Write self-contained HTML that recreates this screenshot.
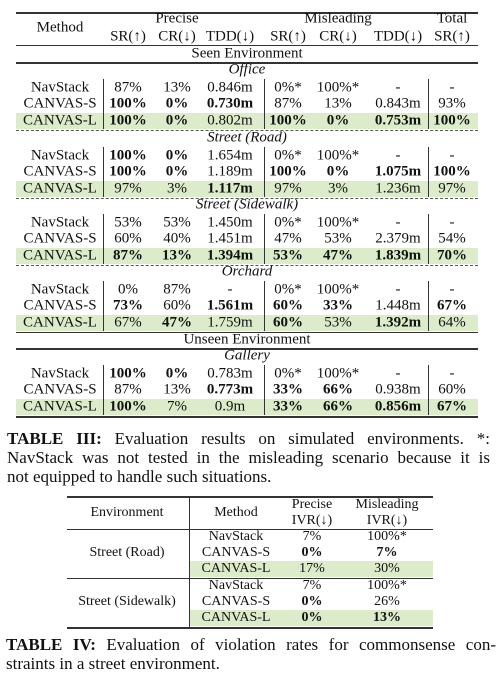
<!DOCTYPE html>
<html><head><meta charset="utf-8">
<style>
body{margin:0;background:#fff;width:503px;height:679px;overflow:hidden;position:relative;font-family:"Liberation Serif",serif;color:#111}
.t{position:absolute;white-space:nowrap;transform:translate(-50%,-50%);line-height:1}
.a{font-size:15px}
.b{font-size:14px}
.bold{font-weight:bold}
.it{font-style:italic}
.h{position:absolute;height:1px;background:#333}
.v{position:absolute;width:1px;background:#333}
.g{position:absolute;background:#dcebc9}
.d{position:absolute;height:0;border-top:1.5px dashed #555}
.cap{position:absolute;font-size:17px;line-height:19px}
.ln{display:block;white-space:nowrap;text-align:justify;text-align-last:justify;height:19px}
.ln.last{text-align-last:left}
</style></head>
<body>
<div id="t3"></div>
<div id="t4"></div>
<div class="cap" style="left:7px;top:429px;width:483px">
<span class="ln"><b>TABLE III:</b> Evaluation results on simulated environments. *:</span>
<span class="ln">NavStack was not tested in the misleading scenario because it is</span>
<span class="ln last">not equipped to handle such situations.</span>
</div>
<div class="cap" style="left:6px;top:635px;width:490px">
<span class="ln"><b>TABLE IV:</b> Evaluation of violation rates for commonsense con-</span>
<span class="ln last">straints in a street environment.</span>
</div>
<script>
const methods=["NavStack","CANVAS-S","CANVAS-L"];
const groups=["Office","Street (Road)","Street (Sidewalk)","Orchard","Gallery"];
const rows3=[
 [["87%","13%","0.846m","0%*","100%*","-","-"],["*100%","*0%","*0.730m","87%","13%","0.843m","93%"],["*100%","*0%","0.802m","*100%","*0%","*0.753m","*100%"]],
 [["*100%","*0%","1.654m","0%*","100%*","-","-"],["*100%","*0%","1.189m","*100%","*0%","*1.075m","*100%"],["97%","3%","*1.117m","97%","3%","1.236m","97%"]],
 [["53%","53%","1.450m","0%*","100%*","-","-"],["60%","40%","1.451m","47%","53%","2.379m","54%"],["*87%","*13%","*1.394m","*53%","*47%","*1.839m","*70%"]],
 [["0%","87%","-","0%*","100%*","-","-"],["*73%","60%","*1.561m","*60%","*33%","1.448m","*67%"],["67%","*47%","1.759m","*60%","53%","*1.392m","64%"]],
 [["*100%","*0%","0.783m","0%*","100%*","-","-"],["87%","13%","*0.773m","*33%","*66%","0.938m","60%"],["*100%","7%","0.9m","*33%","*66%","*0.856m","*67%"]]
];
const envs4=["Street (Road)","Street (Sidewalk)"];
const rows4=[[["7%","100%*"],["*0%","*7%"],["17%","30%"]],[["7%","100%*"],["*0%","26%"],["*0%","*13%"]]];

function el(parent,cls,style,name,txt){const e=document.createElement('div');e.className=cls;e.setAttribute('style',style);


if(txt!==undefined){if(txt.startsWith('*')&&txt.length>1){e.classList.add('bold');txt=txt.slice(1);}e.textContent=txt;}
parent.appendChild(e);return e;}
function txt(p,x,y,s,cls,name){return el(p,'t '+cls,`left:${x}px;top:${y}px`,name,s);}

const T3=document.getElementById('t3');
const cx=[128,177,230,288,338,398,452];
const L=16,R=478;
el(T3,'h',`left:${L}px;top:12px;width:${R-L}px;height:1.5px`,'top-rule');
txt(T3,60,28,'Method','a','header-method');
txt(T3,177,19,'Precise','a','header-precise');
txt(T3,338,19,'Misleading','a','header-misleading');
txt(T3,452,19,'Total','a','header-total');
const sub=["SR(↑)","CR(↓)","TDD(↓)","SR(↑)","CR(↓)","TDD(↓)","SR(↑)"];
sub.forEach((s,i)=>txt(T3,cx[i],37,s,'a','header-metric'));
el(T3,'h',`left:${L}px;top:45px;width:${R-L}px`,'header-rule');
txt(T3,247,54,'Seen Environment','a','seen-environment-label');
el(T3,'h',`left:${L}px;top:62px;width:${R-L}px;height:1.5px`,'section-rule');
const gy=[70,138,205,272,356];
const vx=[103,264,428];
gy.forEach((y0,gi)=>{
  txt(T3,247,y0,groups[gi],'a it','group-'+gi);
  const ry=[y0+17.5,y0+34,y0+50.5];
  el(T3,'g',`left:${L}px;top:${ry[2]-8}px;width:${R-L}px;height:16px`,'highlight-canvas-l');
  vx.forEach(x=>el(T3,'v',`left:${x}px;top:${y0+9}px;height:50px`,'column-separator'));
  ry.forEach((y,ri)=>{
    txt(T3,60,y,methods[ri],'a','method-'+methods[ri].toLowerCase());
    rows3[gi][ri].forEach((v,ci)=>txt(T3,cx[ci],y,v,'a','cell'));
  });
  if(gi<3) el(T3,'d',`left:${L}px;top:${y0+60}px;width:${R-L}px`,'dashed-rule');
});
el(T3,'h',`left:${L}px;top:332px;width:${R-L}px`,'rule');
txt(T3,247,340,'Unseen Environment','a','unseen-environment-label');
el(T3,'h',`left:${L}px;top:348px;width:${R-L}px;height:1.5px`,'rule');
el(T3,'h',`left:${L}px;top:416px;width:${R-L}px;height:1.5px`,'bottom-rule');

const T4=document.getElementById('t4');
const L4=67,R4=433,c4=[236,312,387];
el(T4,'h',`left:${L4}px;top:496px;width:${R4-L4}px;height:1.5px`,'top-rule');
txt(T4,127,513,'Environment','b','header-environment');
txt(T4,236,513,'Method','b','header-method');
txt(T4,312,505,'Precise','b','header-precise');
txt(T4,312,521,'IVR(↓)','b','header-ivr');
txt(T4,387,505,'Misleading','b','header-misleading');
txt(T4,387,521,'IVR(↓)','b','header-ivr');
el(T4,'v',`left:189px;top:497px;height:130px`,'env-separator');
const ey=[529,578];
ey.forEach((y0,ei)=>{
  el(T4,'h',`left:${L4}px;top:${y0}px;width:${R4-L4}px`,'rule');
  const ry=[y0+8,y0+24,y0+40];
  el(T4,'g',`left:190px;top:${ry[2]-8}px;width:${R4-190}px;height:16px`,'highlight-canvas-l');
  txt(T4,127,ry[1],envs4[ei],'b','env-'+ei);
  ry.forEach((y,ri)=>{
    txt(T4,c4[0],y,methods[ri],'b','method');
    rows4[ei][ri].forEach((v,ci)=>txt(T4,c4[ci+1],y,v,'b','cell'));
  });
});
el(T4,'h',`left:${L4}px;top:627px;width:${R4-L4}px;height:1.5px`,'bottom-rule');
</script>
</body></html>
